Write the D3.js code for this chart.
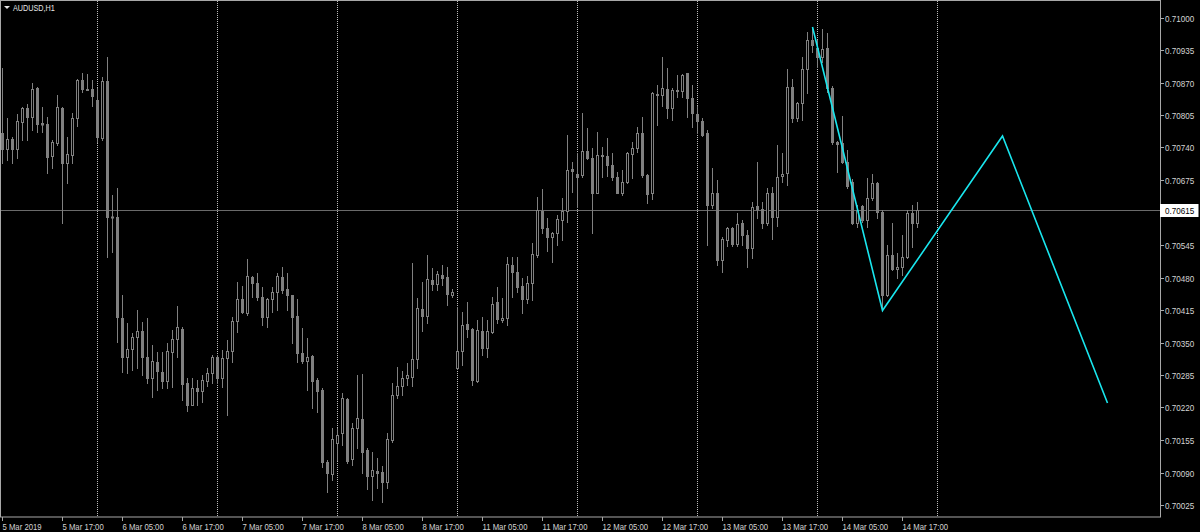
<!DOCTYPE html>
<html><head><meta charset="utf-8">
<script src="https://cdn.jsdelivr.net/npm/d3@7"></script>
<style>html,body{margin:0;padding:0;background:#000;overflow:hidden}</style>
</head><body><svg id="c" width="1200" height="532"></svg>
<script>
// ---- data (AUDUSD H1, bar index 0 = 5 Mar 2019 05:00) ----
const open=[
0.70769,0.70737,0.70757,0.70737,0.70791,0.70819,0.70801,0.70859,0.70789,0.70787,
0.70723,0.70749,0.70819,0.70709,0.70725,0.70799,0.70875,0.70857,0.70857,0.70835,
0.70759,0.70873,0.70601,0.70601,0.70399,0.70321,0.70337,0.70361,0.70373,0.70321,
0.70279,0.70311,0.70291,0.70273,0.70331,0.70357,0.70377,0.70269,0.70225,0.70259,
0.70253,0.70273,0.70289,0.70321,0.70279,0.70319,0.70333,0.70393,0.70437,0.70409,
0.70481,0.70469,0.70441,0.70401,0.70437,0.70451,0.70481,0.70457,0.70445,0.70403,
0.70329,0.70313,0.70323,0.70275,0.70255,0.70111,0.70087,0.70149,0.70169,0.70237,
0.70117,0.70179,0.70197,0.70135,0.70083,0.70093,0.70091,0.70071,0.70155,0.70245,
0.70263,0.70279,0.70281,0.70317,0.70417,0.70403,0.70475,0.70467,0.70485,0.70481,
0.70445,0.70299,0.70333,0.70387,0.70377,0.70273,0.70373,0.70339,0.70371,0.70431,
0.70395,0.70399,0.70505,0.70491,0.70463,0.70437,0.70469,0.70525,0.70613,0.70579,
0.70561,0.70569,0.70595,0.70613,0.70697,0.70687,0.70685,0.70733,0.70719,0.70649,
0.70723,0.70723,0.70705,0.70681,0.70649,0.70671,0.70727,0.70739,0.70769,0.70685,
0.70649,0.70847,0.70845,0.70857,0.70819,0.70853,0.70853,0.70889,0.70839,0.70807,
0.70793,0.70769,0.70625,0.70649,0.70515,0.70555,0.70579,0.70547,0.70589,0.70565,
0.70539,0.70623,0.70617,0.70589,0.70649,0.70601,0.70683,0.70689,0.70861,0.70799,
0.70829,0.70897,0.70955,0.70939,0.70921,0.70939,0.70859,0.70751,0.70749,0.70711,
0.70671,0.70589,0.70623,0.70595,0.70639,0.70669,0.70611,0.70445,0.70525,0.70497,
0.70501,0.70521,0.70609,0.70589];
const high=[
0.70899,0.70799,0.70761,0.70807,0.70821,0.70827,0.70869,0.70861,0.70821,0.70801,
0.70755,0.70845,0.70821,0.70761,0.70809,0.70877,0.70889,0.70887,0.70875,0.70859,
0.70881,0.70921,0.70645,0.70659,0.70445,0.70389,0.70369,0.70415,0.70391,0.70399,
0.70345,0.70331,0.70331,0.70349,0.70375,0.70423,0.70381,0.70279,0.70279,0.70275,
0.70285,0.70299,0.70325,0.70325,0.70335,0.70355,0.70401,0.70471,0.70463,0.70517,
0.70483,0.70489,0.70461,0.70439,0.70461,0.70489,0.70501,0.70489,0.70445,0.70437,
0.70379,0.70359,0.70325,0.70279,0.70259,0.70115,0.70179,0.70179,0.70249,0.70239,
0.70189,0.70285,0.70287,0.70139,0.70131,0.70119,0.70103,0.70169,0.70269,0.70301,
0.70293,0.70309,0.70509,0.70439,0.70471,0.70525,0.70499,0.70493,0.70505,0.70501,
0.70457,0.70421,0.70411,0.70431,0.70379,0.70395,0.70401,0.70395,0.70441,0.70461,
0.70439,0.70521,0.70521,0.70521,0.70479,0.70483,0.70549,0.70641,0.70657,0.70599,
0.70571,0.70605,0.70639,0.70765,0.70711,0.70729,0.70809,0.70779,0.70739,0.70771,
0.70741,0.70759,0.70729,0.70691,0.70695,0.70731,0.70751,0.70781,0.70801,0.70687,
0.70851,0.70865,0.70921,0.70899,0.70859,0.70885,0.70887,0.70889,0.70865,0.70823,
0.70799,0.70775,0.70699,0.70675,0.70561,0.70581,0.70581,0.70609,0.70595,0.70575,
0.70631,0.70711,0.70631,0.70659,0.70661,0.70745,0.70729,0.70897,0.70877,0.70831,
0.70921,0.70971,0.70981,0.70955,0.70977,0.70969,0.70863,0.70753,0.70803,0.70735,
0.70677,0.70625,0.70625,0.70679,0.70687,0.70671,0.70615,0.70545,0.70589,0.70529,
0.70565,0.70615,0.70625,0.70631];
const low=[
0.70709,0.70715,0.70709,0.70719,0.70755,0.70755,0.70775,0.70771,0.70771,0.70689,
0.70699,0.70745,0.70589,0.70669,0.70709,0.70783,0.70851,0.70855,0.70823,0.70751,
0.70755,0.70521,0.70531,0.70351,0.70291,0.70289,0.70295,0.70299,0.70285,0.70269,
0.70241,0.70255,0.70259,0.70259,0.70261,0.70321,0.70235,0.70213,0.70225,0.70225,
0.70231,0.70263,0.70269,0.70269,0.70261,0.70205,0.70311,0.70371,0.70409,0.70405,
0.70441,0.70435,0.70385,0.70381,0.70411,0.70415,0.70449,0.70415,0.70349,0.70311,
0.70309,0.70255,0.70219,0.70211,0.70101,0.70051,0.70075,0.70115,0.70145,0.70109,
0.70105,0.70139,0.70089,0.70057,0.70035,0.70059,0.70031,0.70059,0.70151,0.70239,
0.70245,0.70265,0.70263,0.70299,0.70373,0.70389,0.70455,0.70455,0.70465,0.70425,
0.70441,0.70297,0.70305,0.70361,0.70265,0.70271,0.70325,0.70321,0.70369,0.70389,
0.70391,0.70385,0.70441,0.70451,0.70409,0.70429,0.70435,0.70521,0.70569,0.70533,
0.70511,0.70545,0.70555,0.70591,0.70651,0.70621,0.70681,0.70717,0.70569,0.70649,
0.70681,0.70683,0.70675,0.70649,0.70645,0.70669,0.70679,0.70731,0.70681,0.70629,
0.70637,0.70785,0.70823,0.70799,0.70795,0.70841,0.70841,0.70801,0.70781,0.70769,
0.70763,0.70545,0.70619,0.70505,0.70491,0.70543,0.70543,0.70543,0.70545,0.70501,
0.70519,0.70599,0.70579,0.70585,0.70557,0.70583,0.70671,0.70665,0.70791,0.70793,
0.70795,0.70849,0.70931,0.70901,0.70911,0.70851,0.70747,0.70691,0.70709,0.70659,
0.70587,0.70581,0.70591,0.70581,0.70635,0.70599,0.70414,0.70443,0.70495,0.70479,
0.70485,0.70519,0.70541,0.70581];
const close=[
0.70737,0.70757,0.70737,0.70793,0.70819,0.70801,0.70857,0.70787,0.70786,0.70721,
0.70751,0.70821,0.70709,0.70727,0.70799,0.70875,0.70857,0.70856,0.70843,0.70761,
0.70873,0.70601,0.70602,0.70401,0.70321,0.70337,0.70361,0.70373,0.70321,0.70279,
0.70313,0.70293,0.70273,0.70333,0.70357,0.70381,0.70267,0.70225,0.70259,0.70253,
0.70275,0.70289,0.70321,0.70279,0.70319,0.70333,0.70393,0.70437,0.70411,0.70483,
0.70469,0.70441,0.70401,0.70437,0.70451,0.70483,0.70455,0.70445,0.70401,0.70329,
0.70313,0.70321,0.70273,0.70253,0.70111,0.70089,0.70157,0.70165,0.70239,0.70113,
0.70179,0.70199,0.70131,0.70083,0.70095,0.70089,0.70071,0.70157,0.70245,0.70263,
0.70279,0.70285,0.70317,0.70419,0.70403,0.70477,0.70467,0.70487,0.70479,0.70447,
0.70451,0.70333,0.70385,0.70377,0.70275,0.70375,0.70339,0.70373,0.70427,0.70397,
0.70399,0.70507,0.70491,0.70461,0.70437,0.70469,0.70527,0.70615,0.70579,0.70561,
0.70569,0.70597,0.70613,0.70695,0.70693,0.70681,0.70733,0.70719,0.70649,0.70725,
0.70725,0.70705,0.70681,0.70649,0.70671,0.70729,0.70739,0.70769,0.70685,0.70647,
0.70849,0.70845,0.70859,0.70819,0.70855,0.70855,0.70885,0.70839,0.70809,0.70793,
0.70765,0.70625,0.70649,0.70515,0.70557,0.70579,0.70547,0.70587,0.70565,0.70539,
0.70621,0.70617,0.70589,0.70649,0.70601,0.70681,0.70687,0.70861,0.70799,0.70829,
0.70897,0.70955,0.70945,0.70921,0.70937,0.70859,0.70751,0.70747,0.70711,0.70663,
0.70589,0.70615,0.70595,0.70639,0.70669,0.70611,0.70445,0.70525,0.70497,0.70501,
0.70521,0.70609,0.70589,0.70615];

const xTickIndex=[0,12,24,36,48,60,72,84,96,108,120,132,144,156,168,180];
const xTickLabels=["5 Mar 2019","5 Mar 17:00","6 Mar 05:00","6 Mar 17:00","7 Mar 05:00","7 Mar 17:00",
  "8 Mar 05:00","8 Mar 17:00","11 Mar 05:00","11 Mar 17:00","12 Mar 05:00","12 Mar 17:00",
  "13 Mar 05:00","13 Mar 17:00","14 Mar 05:00","14 Mar 17:00"];
const separatorIndex=[19,43,67,91,115,139,163,187];
// 0.70610 sits under the current-price box in the reference, so it is not listed
const priceTicks=[0.71000,0.70935,0.70870,0.70805,0.70740,0.70675,0.70545,
  0.70480,0.70415,0.70350,0.70285,0.70220,0.70155,0.70090,0.70025];
const zigzagIndex=[162,176,200,221];
const zigzagPrice=[0.70981,0.70414,0.70763,0.70229];
const symbolLabel="AUDUSD,H1";

// ---- layout ----
const plotRight=1160, plotBottom=517, plotTop=1;
const FONT='"Liberation Sans", Arial, sans-serif';
const candleColor="#808080", frameColor="#a8a8a8", textColor="#d4d4d4";
const svg=d3.select("#c");
svg.append("rect").attr("width",1200).attr("height",532).attr("fill","#000");

const x=d3.scaleLinear().domain([0,231.5]).range([2.5,plotRight]);
const y=d3.scaleLinear().domain([0.70001,0.71033]).range([plotBottom,plotTop]);

svg.append("defs").append("clipPath").attr("id","plot")
  .append("rect").attr("x",0).attr("y",plotTop).attr("width",plotRight).attr("height",plotBottom-plotTop);
const g=svg.append("g").attr("clip-path","url(#plot)");

// period separators
g.selectAll("line.sep").data(separatorIndex).join("line").attr("class","sep")
  .attr("x1",d=>x(d)).attr("x2",d=>x(d)).attr("y1",plotTop).attr("y2",plotBottom)
  .attr("stroke","#bdbdbd").attr("stroke-width",1).attr("stroke-dasharray","1,1");

// bid line
const last=close[close.length-1];
const yl=Math.round(y(last))+0.5;
g.append("line").attr("x1",0).attr("x2",plotRight).attr("y1",yl).attr("y2",yl)
  .attr("stroke","#6a6a6a").attr("stroke-width",1);

// candles
const bars=d3.range(open.length).map(i=>({i,o:open[i],h:high[i],l:low[i],c:close[i]}));
const cg=g.selectAll("g.bar").data(bars).join("g").attr("class","bar");
cg.append("line").attr("x1",d=>x(d.i)).attr("x2",d=>x(d.i))
  .attr("y1",d=>y(d.h)).attr("y2",d=>y(d.l)+1).attr("stroke",candleColor).attr("stroke-width",1);
cg.each(function(d){
  const s=d3.select(this);
  const top=y(Math.max(d.o,d.c)), bot=y(Math.min(d.o,d.c));
  if(d.c>d.o){
    s.append("rect").attr("x",x(d.i)-1).attr("y",top+0.5).attr("width",2)
      .attr("height",Math.max(bot-top,1)).attr("fill","#000").attr("stroke",candleColor).attr("stroke-width",1);
  } else {
    s.append("rect").attr("x",x(d.i)-1.5).attr("y",top).attr("width",3)
      .attr("height",Math.max(bot-top,1)+1).attr("fill",candleColor);
  }
});

// zigzag
g.append("path").datum(d3.zip(zigzagIndex,zigzagPrice))
  .attr("d",d3.line().x(d=>x(d[0])).y(d=>y(d[1])))
  .attr("fill","none").attr("stroke","#19e6ee").attr("stroke-width",1.6);

// frame
svg.append("rect").attr("x",0.5).attr("y",0.5).attr("width",plotRight).attr("height",plotBottom-0.5)
  .attr("fill","none").attr("stroke",frameColor).attr("stroke-width",1);

// right price axis
const ra=svg.append("g");
priceTicks.forEach(p=>{
  const yy=Math.round(y(p))+0.5;
  ra.append("line").attr("x1",plotRight+0.5).attr("x2",plotRight+4).attr("y1",yy).attr("y2",yy)
    .attr("stroke",frameColor);
  ra.append("text").attr("transform",`translate(${plotRight+5},${yy+3}) scale(0.9,1)`)
    .attr("font-family",FONT).attr("font-size","9px").attr("fill",textColor).text(p.toFixed(5));
});
// current price box
ra.append("rect").attr("x",plotRight+0.5).attr("y",yl-6).attr("width",37.5).attr("height",12)
  .attr("fill","#ffffff").attr("stroke","#ffffff");
ra.append("text").attr("transform",`translate(${plotRight+5},${yl+3}) scale(0.9,1)`)
  .attr("font-family",FONT).attr("font-size","9px").attr("fill","#000").text(last.toFixed(5));

// bottom time axis
const ba=svg.append("g");
xTickIndex.forEach((idx,k)=>{
  const xx=Math.round(x(idx)-0.5)+0.5;
  ba.append("line").attr("x1",xx).attr("x2",xx).attr("y1",plotBottom).attr("y2",plotBottom+4)
    .attr("stroke",frameColor);
  ba.append("text").attr("transform",`translate(${xx},${plotBottom+13}) scale(0.86,1)`)
    .attr("font-family",FONT).attr("font-size","9px").attr("fill",textColor).text(xTickLabels[k]);
});

// symbol label
svg.append("path").attr("d","M4,6 L10,6 L7,9 Z").attr("fill","#e6e6e6");
svg.append("text").attr("transform","translate(13,11) scale(0.85,1)")
  .attr("font-family",FONT).attr("font-size","8.5px").attr("fill","#e6e6e6").text(symbolLabel);
</script></body></html>
